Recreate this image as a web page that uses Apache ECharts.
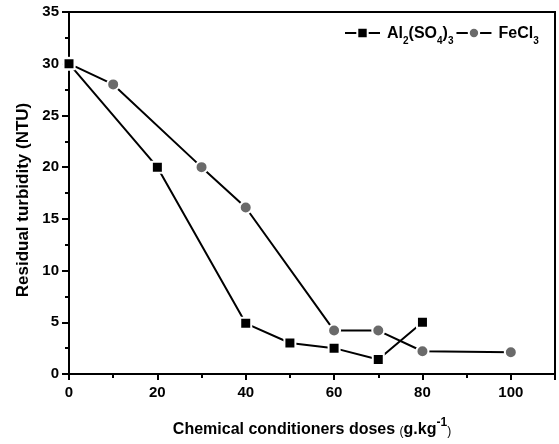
<!DOCTYPE html>
<html><head><meta charset="utf-8">
<script src="https://cdn.jsdelivr.net/npm/echarts@6/dist/echarts.min.js"></script>
<style>html,body{margin:0;padding:0;background:#fff}#c{width:559px;height:444px}</style>
</head><body><div id="c"></div>
<script>
const alDose = [0, 20, 40, 50, 60, 70, 80];
const alTurb = [30, 20, 4.9, 3.0, 2.5, 1.4, 5.0];
const feDose = [0, 10, 30, 40, 60, 70, 80, 100];
const feTurb = [30, 28, 20, 16.1, 4.2, 4.2, 2.2, 2.1];
const seriesNames = ['Al2(SO4)3', 'FeCl3'];

const FONT = '"Liberation Sans", Arial, sans-serif';
const chart = echarts.init(document.getElementById('c'));
const pair = (xs, ys) => xs.map((x, i) => [x, ys[i]]);

chart.setOption({
  animation: false,
  grid: { left: 69, right: 4, top: 12, bottom: 70, show: true, borderColor: '#000', borderWidth: 2 },
  legend: {
    top: 21, left: 339, itemWidth: 35, itemHeight: 13, itemGap: 2,
    formatter: function (n) {
      if (n === 'Al2(SO4)3') return '{a|Al}{s|2}{a|(SO}{s|4}{a|)}{s|3}';
      return '{a|FeCl}{s|3}';
    },
    textStyle: {
      color: '#000', padding: [0, 0, 0, 2],
      rich: {
        a: { fontFamily: FONT, fontWeight: 'bold', fontSize: 16, color: '#000', verticalAlign: 'bottom', lineHeight: 18 },
        s: { fontFamily: FONT, fontWeight: 'bold', fontSize: 10, color: '#000', verticalAlign: 'bottom', lineHeight: 18, padding: [0, 0, -4, 0] }
      }
    },
    data: seriesNames
  },
  xAxis: {
    type: 'value', min: 0, max: 110, interval: 20,
    name: '{n|Chemical conditioners doses }{p|(}{u|g.kg}{e|-1}{p|)}',
    nameLocation: 'middle', nameGap: 44,
    nameTextStyle: {
      rich: {
        n: { fontFamily: FONT, fontWeight: 'bold', fontSize: 16, color: '#000', verticalAlign: 'bottom', lineHeight: 20 },
        p: { fontFamily: FONT, fontSize: 12, color: '#000', verticalAlign: 'bottom', lineHeight: 20 },
        u: { fontFamily: FONT, fontWeight: 'bold', fontSize: 16, color: '#000', verticalAlign: 'bottom', lineHeight: 20 },
        e: { fontFamily: FONT, fontWeight: 'bold', fontSize: 12, color: '#000', verticalAlign: 'bottom', lineHeight: 20, padding: [0, 0, 9, 0] }
      }
    },
    axisLine: { onZero: false, lineStyle: { color: '#000', width: 2 } },
    axisTick: { show: true, inside: false, length: 6, lineStyle: { color: '#000', width: 2 } },
    minorTick: { show: true, splitNumber: 2, length: 4, lineStyle: { color: '#000', width: 2 } },
    axisLabel: { fontFamily: FONT, fontWeight: 'bold', fontSize: 15, color: '#000', margin: 11,
      formatter: v => (v > 100 ? '' : v) },
    splitLine: { show: false }
  },
  yAxis: {
    type: 'value', min: 0, max: 35, interval: 5,
    name: 'Residual turbidity (NTU)', nameLocation: 'middle', nameGap: 36,
    nameTextStyle: { fontFamily: FONT, fontWeight: 'bold', fontSize: 17, color: '#000', padding: [0, 14, 0, 0] },
    axisLine: { onZero: false, lineStyle: { color: '#000', width: 2 } },
    axisTick: { show: true, inside: false, length: 7, lineStyle: { color: '#000', width: 2 } },
    minorTick: { show: true, splitNumber: 2, length: 4, lineStyle: { color: '#000', width: 2 } },
    axisLabel: { fontFamily: FONT, fontWeight: 'bold', fontSize: 15, color: '#000', margin: 10 },
    splitLine: { show: false }
  },
  series: [
    {
      name: seriesNames[0], type: 'line', data: pair(alDose, alTurb),
      symbol: 'rect', symbolSize: 11, z: 3,
      lineStyle: { color: '#000', width: 2 },
      itemStyle: { color: '#000', borderColor: '#fff', borderWidth: 2 }
    },
    {
      name: seriesNames[1], type: 'line', data: pair(feDose, feTurb),
      symbol: 'circle', symbolSize: 12, z: 2,
      lineStyle: { color: '#000', width: 2 },
      itemStyle: { color: '#6a6a6a', borderColor: '#fff', borderWidth: 2 }
    }
  ]
});
</script></body></html>
